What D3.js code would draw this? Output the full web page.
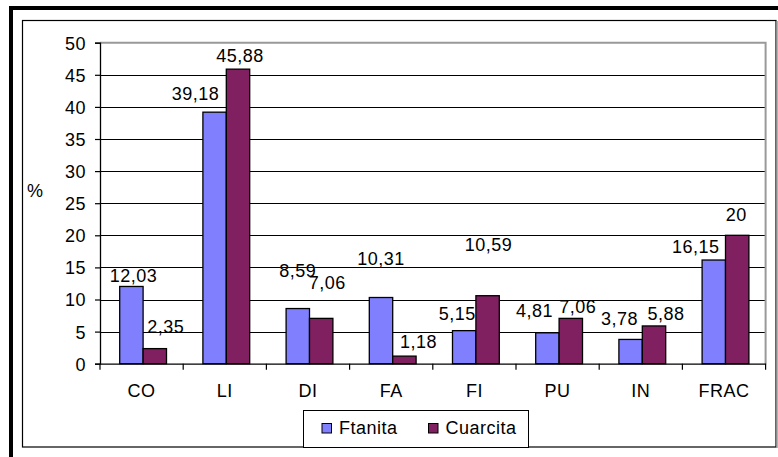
<!DOCTYPE html>
<html>
<head>
<meta charset="utf-8">
<script src="https://cdn.jsdelivr.net/npm/d3@7"></script>
<style>
html,body{margin:0;padding:0;background:#fff;}
svg{display:block;}
text{font-family:"Liberation Sans",Arial,sans-serif;font-size:18px;fill:#000;letter-spacing:0.5px;}
</style>
</head>
<body>
<svg id="chart" width="778" height="457"></svg>
<script>
// ---- data ----
const categories = ["CO","LI","DI","FA","FI","PU","IN","FRAC"];
const seriesNames = ["Ftanita","Cuarcita"];
const ftanita  = [12.03, 39.18, 8.59, 10.31, 5.15, 4.81, 3.78, 16.15];
const cuarcita = [2.35, 45.88, 7.06, 1.18, 10.59, 7.06, 5.88, 20];
const ftanitaLabels  = ["12,03","39,18","8,59","10,31","5,15","4,81","3,78","16,15"];
const cuarcitaLabels = ["2,35","45,88","7,06","1,18","10,59","7,06","5,88","20"];
const yTicks = [0,5,10,15,20,25,30,35,40,45,50];
const yAxisTitle = "%";

// manual label nudges (dx, dy relative to default position above bar), as in the original
const ftanitaNudge  = [[2,0],[-19,-8],[0,-28],[0,-29],[-7,-7],[-13,-12],[-11,-10],[-18,-3]];
const cuarcitaNudge = [[11,-12],[2,-3],[6,-25],[14,-4],[1,-41],[7,-1],[12,-2],[-1,-10]];

const colors = ["#8080FF","#802060"];

const svg = d3.select("#chart");

// outer thick frame (clipped)
svg.append("rect").attr("x",9).attr("y",6).attr("width",769).attr("height",4).attr("fill","#000");
svg.append("rect").attr("x",9).attr("y",6).attr("width",4).attr("height",451).attr("fill","#000");
// inner chart border
svg.append("rect").attr("x",22.5).attr("y",20.5).attr("width",753.5).attr("height",426.5)
  .attr("fill","#fff").attr("stroke","#000").attr("stroke-width",1.2);
svg.append("line").attr("x1",777).attr("x2",777).attr("y1",21).attr("y2",448).attr("stroke","#999").attr("stroke-width",1.5);

const pLeft = 100, pRight = 765.6, pTop = 42.7, pBottom = 363.7;

const x = d3.scaleBand().domain(categories).range([pLeft,pRight]).padding(0);
const y = d3.scaleLinear().domain([0,50]).range([pBottom,pTop]);
const barW = 23.4;
const inner = d3.scaleBand().domain(seriesNames).range([-barW+1.5, barW+1.5]).padding(0);

// gridlines
svg.append("g").selectAll("line").data(yTicks.filter(t=>t>0 && t<50)).join("line")
  .attr("x1",pLeft).attr("x2",pRight)
  .attr("y1",d=>Math.round(y(d))+0.5).attr("y2",d=>Math.round(y(d))+0.5)
  .attr("stroke","#000").attr("stroke-width",1);

// plot area top/right border (gray)
svg.append("path").attr("d",`M${pLeft},${pTop}H${pRight}V${pBottom}`)
  .attr("fill","none").attr("stroke","#999").attr("stroke-width",2);

// bars
const series = [ftanita, cuarcita];
series.forEach((vals,si)=>{
  svg.append("g").selectAll("rect").data(vals).join("rect")
    .attr("x",(d,i)=>x(categories[i]) + x.bandwidth()/2 + inner(seriesNames[si]))
    .attr("width",inner.bandwidth())
    .attr("y",d=>y(d))
    .attr("height",d=>y(0)-y(d))
    .attr("fill",colors[si])
    .attr("stroke","#000").attr("stroke-width",1.3);
});

// y axis
const yAxis = d3.axisLeft(y).tickValues(yTicks).tickSize(5).tickPadding(9).tickFormat(d3.format("d"));
const gy = svg.append("g").attr("transform",`translate(${pLeft},0)`).call(yAxis);
gy.attr("font-size",null).attr("font-family",null);
gy.select(".domain").attr("stroke","#000").attr("stroke-width",1.3);
gy.selectAll(".tick line").attr("stroke","#000").attr("stroke-width",1.2);
gy.selectAll("text").attr("fill","#000").attr("dy","0.36em");

// x axis
const xAxis = d3.axisBottom(x).tickSize(0).tickPadding(0);
const gx = svg.append("g").attr("transform",`translate(0,${pBottom})`).call(xAxis);
gx.attr("font-size",null).attr("font-family",null);
gx.select(".domain").attr("stroke","#000").attr("stroke-width",1.3);
gx.selectAll("text").attr("fill","#000").attr("y",33).attr("dy",0);
// category boundary ticks
const bounds = categories.map(c=>x(c)).concat([pRight]);
gx.append("g").selectAll("line").data(bounds).join("line")
  .attr("x1",d=>d).attr("x2",d=>d).attr("y1",0).attr("y2",6)
  .attr("stroke","#000").attr("stroke-width",1.2);

// y axis title
svg.append("text").attr("x",27).attr("y",197).text(yAxisTitle);

// value labels
const labels = [ftanitaLabels, cuarcitaLabels];
const nudges = [ftanitaNudge, cuarcitaNudge];
series.forEach((vals,si)=>{
  svg.append("g").selectAll("text").data(vals).join("text")
    .attr("text-anchor","middle")
    .attr("x",(d,i)=>x(categories[i]) + x.bandwidth()/2 + inner(seriesNames[si]) + inner.bandwidth()/2 + nudges[si][i][0])
    .attr("y",(d,i)=>y(d) - 4 + nudges[si][i][1])
    .text((d,i)=>labels[si][i]);
});

// legend
const lg = svg.append("g");
lg.append("rect").attr("x",303.5).attr("y",410.5).attr("width",225).attr("height",37)
  .attr("fill","#fff").attr("stroke","#000").attr("stroke-width",1);
const legendX = [322, 428.5];
seriesNames.forEach((n,i)=>{
  lg.append("rect").attr("x",legendX[i]).attr("y",423.5).attr("width",9.5).attr("height",9.5)
    .attr("fill",colors[i]).attr("stroke","#000").attr("stroke-width",1);
  lg.append("text").attr("x",legendX[i]+17).attr("y",434).text(n);
});
</script>
</body>
</html>
